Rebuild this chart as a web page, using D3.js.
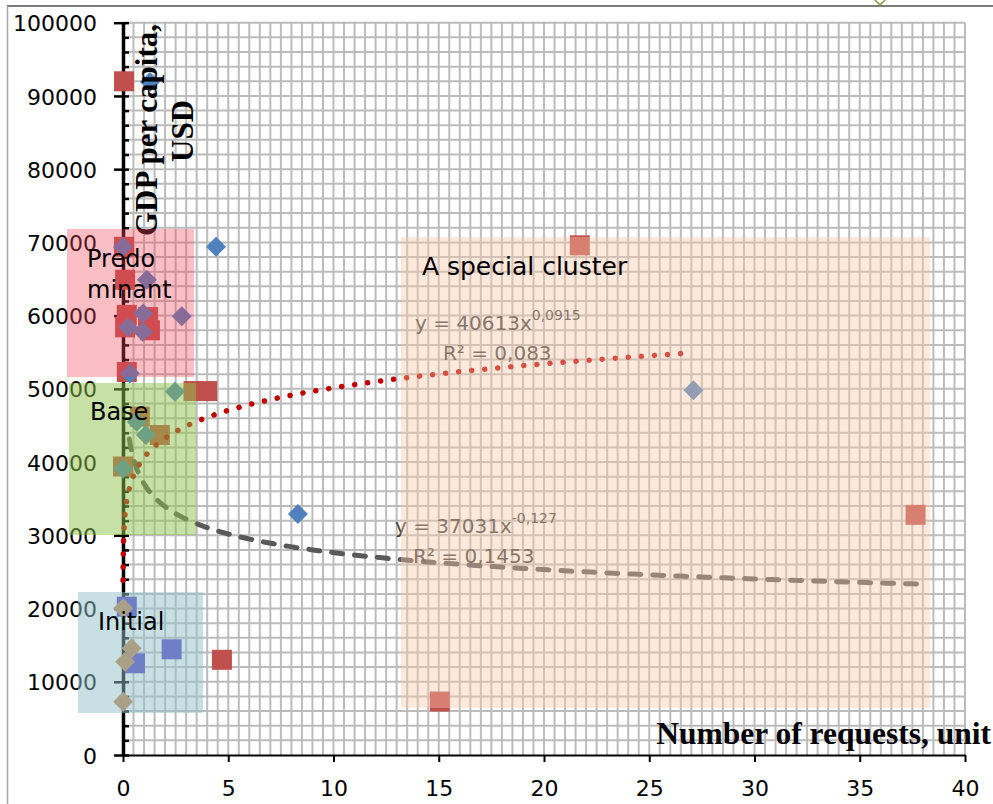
<!DOCTYPE html>
<html>
<head>
<meta charset="utf-8">
<script src="https://cdn.jsdelivr.net/npm/d3@7"></script>
<style>
  body { margin: 0; background: #fff; }
  svg { display: block; }
</style>
</head>
<body>
<svg id="chart" width="993" height="804"></svg>
<script>
// ---- data ----
var redSquares = [
  [0.05, 92000], [0.05, 69400], [0.1, 64900], [0.18, 60100], [1.19, 59800],
  [0.1, 58400], [1.28, 58000], [0.18, 52300], [3.35, 49700], [4.0, 49700],
  [0.8, 46200], [1.75, 43700], [0, 39400],
  [4.7, 13000], [15.05, 7300], [21.7, 69600], [37.65, 32800]
];
var blueDiamonds = [
  [1.28, 91900], [0, 69400], [4.42, 69400], [1.13, 64900], [0.96, 60300],
  [2.79, 59900], [0.25, 58400], [0.94, 57800], [0.33, 52100], [2.47, 49600],
  [0.65, 45500], [1.09, 43700], [0, 39100], [8.31, 32900], [27.1, 49800]
];
var indigoSquares = [[0.18, 20250], [2.31, 14430], [0.57, 12520]];
var orangeDiamonds = [[0.01, 20030], [0.41, 14570], [0.1, 12740], [0.01, 7280]];

// power trendlines y = a * x^b, as printed on the chart
var trendRed = { a: 40613, b: 0.0915, from: 0.003, to: 27 };
var trendGray = { a: 37031, b: -0.127, from: 0.3, to: 37.8 };

var xTicks = [0, 5, 10, 15, 20, 25, 30, 35, 40];
var yTicks = [0, 10000, 20000, 30000, 40000, 50000, 60000, 70000, 80000, 90000, 100000];

// cluster areas in data units [xFrom, xTo, yFrom, yTo]
var clusterNames = ['predominant', 'base', 'initial', 'special'];
var clusterExtents = [
  [-2.66, 3.37, 51620, 71830],
  [-2.57, 3.47, 30040, 50800],
  [-2.14, 3.8, 5735, 22260],
  [13.2, 38.34, 6420, 70740]
];
var clusterLabels = [
  { lines: ['Predo', 'minant'], x: -1.71, y: 66640 },
  { lines: ['Base'], x: -1.57, y: 45750 },
  { lines: ['Initial'], x: -1.19, y: 17070 },
  { lines: ['A special cluster'], x: 14.2, y: 65550 }
];
var equations = [
  { main: 'y = 40613x', sup: '0,0915', r2: 'R\u00b2 = 0,083', x: 13.87, y: 58040, rx: 15.2, ry: 53940 },
  { main: 'y = 37031x', sup: '-0,127', r2: 'R\u00b2 = 0,1453', x: 12.92, y: 30320, rx: 13.78, ry: 26220 }
];

// ---- styles ----
var clusterFill = {
  predominant: ['rgb(240,70,85)', 0.35],
  base: ['rgb(141,193,75)', 0.5],
  initial: ['rgb(145,191,199)', 0.5],
  special: ['rgb(250,200,168)', 0.4]
};
var sans = '"DejaVu Sans", sans-serif';
var serif = '"Liberation Serif", "Times New Roman", serif';

var svg = d3.select('#chart');

var x = d3.scaleLinear().domain([0, 40]).range([123, 965]);
var y = d3.scaleLinear().domain([0, 100000]).range([755, 22.7]);

// outer frame fragments
svg.append('line').attr('x1', 7).attr('x2', 993).attr('y1', 6).attr('y2', 6)
  .attr('stroke', '#7a7a7a').attr('stroke-width', 2);
svg.append('line').attr('x1', 7.5).attr('x2', 7.5).attr('y1', 6).attr('y2', 804)
  .attr('stroke', '#a6a6a6').attr('stroke-width', 1.5);
svg.append('path').attr('d', 'M875,0 L880,5 L885,0')
  .attr('fill', 'none').attr('stroke', '#7f9f3f').attr('stroke-width', 1.5);

// grid
var grid = svg.append('g').attr('stroke', '#bcbcbc').attr('stroke-width', 2);
grid.selectAll('line.v')
  .data(d3.range(0.5, 40.001, 0.5))
  .enter().append('line').attr('class', 'v')
  .attr('x1', function(d) { return x(d); }).attr('x2', function(d) { return x(d); })
  .attr('y1', y(100000)).attr('y2', y(0));
grid.selectAll('line.h')
  .data(d3.range(2000, 100001, 2000))
  .enter().append('line').attr('class', 'h')
  .attr('y1', function(d) { return y(d); }).attr('y2', function(d) { return y(d); })
  .attr('x1', x(0)).attr('x2', x(40));

// x axis
var xAxis = svg.append('g')
  .attr('transform', 'translate(0,' + y(0) + ')')
  .call(d3.axisBottom(x).tickValues(xTicks).tickSize(7).tickSizeOuter(0).tickPadding(18));
xAxis.select('.domain').attr('stroke', '#000').attr('stroke-width', 2);
xAxis.selectAll('.tick line').attr('stroke', '#000').attr('stroke-width', 2);
xAxis.selectAll('.tick text').attr('font-family', sans).attr('font-size', 22).attr('fill', '#000');

// y axis: minor ticks inside, major ticks crossing
var yMinor = svg.append('g')
  .attr('transform', 'translate(' + x(0) + ',0)')
  .call(d3.axisRight(y).tickValues(d3.range(2000, 100000, 2000).filter(function(d) { return d % 10000; }))
    .tickSize(6).tickSizeOuter(0).tickFormat(''));
yMinor.select('.domain').remove();
yMinor.selectAll('.tick line').attr('stroke', '#000').attr('stroke-width', 2.5);

var yAxis = svg.append('g')
  .attr('transform', 'translate(' + x(0) + ',0)')
  .call(d3.axisLeft(y).tickValues(yTicks).tickFormat(d3.format('d'))
    .tickSize(9).tickSizeOuter(0).tickPadding(17));
yAxis.select('.domain').attr('stroke', '#000').attr('stroke-width', 3.5);
yAxis.selectAll('.tick line').attr('stroke', '#000').attr('stroke-width', 2.5).attr('x1', 6);
yAxis.selectAll('.tick text')
  .attr('font-family', sans).attr('font-size', 22).attr('fill', '#000').attr('dy', '0.37em');

// markers
var square = d3.symbol(d3.symbolSquare, 400);
var diamond = d3.symbol(d3.symbolSquare, 200);

function drawMarkers(data, shape, rot, color) {
  svg.append('g').selectAll('path')
    .data(data)
    .enter().append('path')
    .attr('d', shape)
    .attr('transform', function(d) { return 'translate(' + x(d[0]) + ',' + y(d[1]) + ') rotate(' + rot + ')'; })
    .attr('fill', color);
}
drawMarkers(redSquares, square, 0, '#c0504d');
drawMarkers(indigoSquares, square, 0, 'rgb(75,62,200)');
drawMarkers(blueDiamonds, diamond, 45, '#4f81bd');
drawMarkers(orangeDiamonds, diamond, 45, '#c38147');

// trendlines
function trendPoints(t) {
  return d3.range(0, 1.0001, 0.002).map(function(k) {
    var xv = t.from * Math.pow(t.to / t.from, k);
    return [xv, t.a * Math.pow(xv, t.b)];
  });
}
var line = d3.line().x(function(d) { return x(d[0]); }).y(function(d) { return y(d[1]); });

svg.append('path').datum(trendPoints(trendGray))
  .attr('d', line).attr('fill', 'none')
  .attr('stroke', '#595959').attr('stroke-width', 5)
  .attr('stroke-linecap', 'round').attr('stroke-dasharray', '11 12');
svg.append('path').datum(trendPoints(trendRed))
  .attr('d', line).attr('fill', 'none')
  .attr('stroke', '#c00000').attr('stroke-width', 5.5)
  .attr('stroke-linecap', 'round').attr('stroke-dasharray', '0.1 13');

// axis titles
svg.append('text')
  .attr('transform', 'translate(157,130) rotate(-90)')
  .attr('text-anchor', 'middle')
  .attr('font-family', serif).attr('font-weight', 'bold').attr('font-size', 31)
  .text('GDP per capita,');
svg.append('text')
  .attr('transform', 'translate(193,131) rotate(-90)')
  .attr('text-anchor', 'middle')
  .attr('font-family', serif).attr('font-weight', 'bold').attr('font-size', 31)
  .text('USD');
svg.append('text')
  .attr('x', 991).attr('y', 744)
  .attr('text-anchor', 'end')
  .attr('font-family', serif).attr('font-weight', 'bold').attr('font-size', 31.5)
  .text('Number of requests, unit');

// trendline equations
equations.forEach(function(e) {
  var t = svg.append('text')
    .attr('x', x(e.x)).attr('y', y(e.y))
    .attr('font-family', sans).attr('font-size', 20).attr('fill', '#404040');
  t.append('tspan').text(e.main);
  t.append('tspan').attr('dy', -10).attr('font-size', 14).text(e.sup);
  svg.append('text')
    .attr('x', x(e.rx)).attr('y', y(e.ry))
    .attr('font-family', sans).attr('font-size', 20).attr('fill', '#404040')
    .text(e.r2);
});

// cluster areas, translucent over everything drawn so far
svg.append('g').selectAll('rect')
  .data(clusterExtents)
  .enter().append('rect')
  .attr('x', function(d) { return x(d[0]); })
  .attr('width', function(d) { return x(d[1]) - x(d[0]); })
  .attr('y', function(d) { return y(d[3]); })
  .attr('height', function(d) { return y(d[2]) - y(d[3]); })
  .attr('fill', function(d, i) { return clusterFill[clusterNames[i]][0]; })
  .attr('fill-opacity', function(d, i) { return clusterFill[clusterNames[i]][1]; });

// cluster labels
clusterLabels.forEach(function(c, i) {
  var t = svg.append('text')
    .attr('x', x(c.x)).attr('y', y(c.y))
    .attr('font-family', sans).attr('font-size', i === 3 ? 25 : 24).attr('fill', '#000');
  c.lines.forEach(function(l, j) {
    t.append('tspan').attr('x', x(c.x)).attr('dy', j === 0 ? 0 : 31).text(l);
  });
});
</script>
</body>
</html>
